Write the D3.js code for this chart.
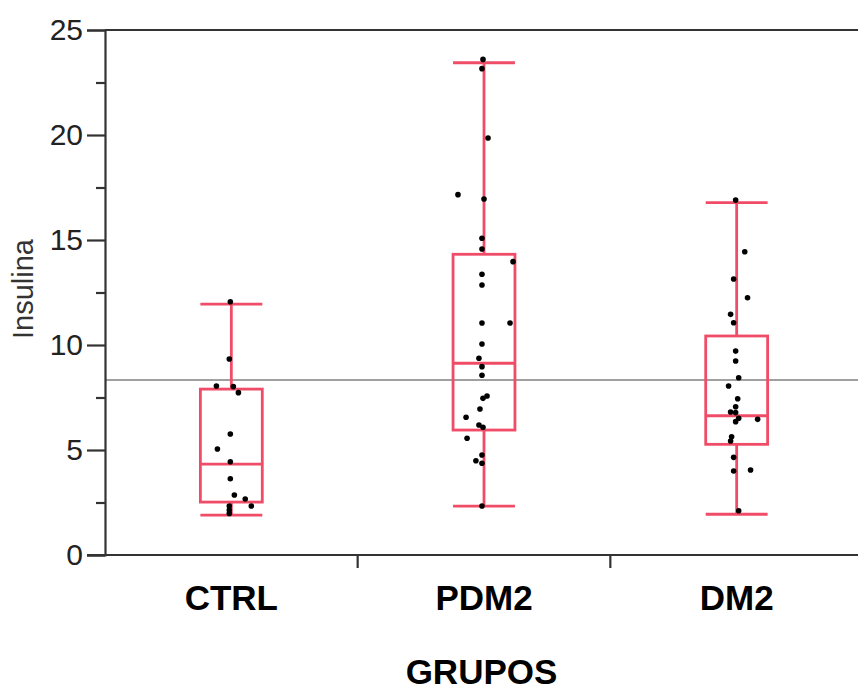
<!DOCTYPE html>
<html><head><meta charset="utf-8">
<script src="https://cdn.jsdelivr.net/npm/d3@7"></script>
<style>body{margin:0;background:#fff}svg{display:block}</style>
</head><body>
<svg id="c" width="858" height="690"></svg>
<script>
const categories = ["CTRL", "PDM2", "DM2"];
const yTicks = [0, 5, 10, 15, 20, 25];
const yMinorTicks = [2.5, 7.5, 12.5, 17.5, 22.5];
const whiskerLow = [1.9, 2.33, 1.94];
const q1 = [2.52, 5.95, 5.27];
const median = [4.33, 9.13, 6.63];
const q3 = [7.9, 14.32, 10.43];
const whiskerHigh = [11.95, 23.44, 16.78];
const grandMean = 8.33;
const ctrlValues = [12.06, 9.33, 8.05, 8.02, 7.73, 5.76, 5.05, 4.44, 3.63, 2.86, 2.67, 2.33, 2.33, 2.14, 1.98];
const ctrlJitter = [-0.004, -0.008, -0.059, 0.008, 0.028, -0.004, -0.055, -0.004, -0.004, 0.012, 0.055, 0.079, -0.008, -0.008, -0.008];
const pdm2Values = [23.6, 23.16, 19.86, 17.16, 16.95, 15.08, 14.57, 13.97, 13.37, 12.86, 11.05, 11.05, 10.05, 9.37, 8.97, 8.56, 7.57, 7.46, 6.95, 6.56, 6.19, 6.08, 5.56, 4.76, 4.49, 4.37, 2.33];
const pdm2Jitter = [-0.004, -0.008, 0.016, -0.103, 0, -0.008, -0.008, 0.115, -0.008, -0.008, -0.008, 0.103, -0.008, -0.02, -0.008, -0.008, 0.012, -0.004, -0.016, -0.071, -0.02, -0.004, -0.067, -0.008, -0.032, -0.008, -0.008];
const dm2Values = [16.9, 14.44, 13.14, 12.25, 11.46, 11.06, 9.71, 9.24, 8.44, 8.05, 7.44, 7.06, 6.81, 6.78, 6.51, 6.35, 6.46, 5.63, 5.43, 4.65, 4.0, 4.05, 2.11];
const dm2Jitter = [-0.004, 0.032, -0.012, 0.043, -0.024, -0.012, -0.004, -0.004, 0.008, -0.032, 0.004, -0.004, -0.024, -0.004, 0.008, -0.004, 0.083, -0.02, -0.024, -0.012, -0.012, 0.055, 0.008];

const groupValues = [ctrlValues, pdm2Values, dm2Values];
const groupJitter = [ctrlJitter, pdm2Jitter, dm2Jitter];

const svg = d3.select("#c");
const mLeft = 105, mRight = 863, mTop = 30, mBottom = 555;
const RED = "#f04c68";
const FONT = "Liberation Sans, Arial, Helvetica, sans-serif";

const y = d3.scaleLinear().domain([0, 25]).range([mBottom, mTop]);
const x = d3.scaleBand().domain(categories).range([mLeft, mRight]).padding(0);
const bw = x.bandwidth();
const boxW = bw * 0.245;

// mean line
svg.append("line").attr("x1", mLeft).attr("x2", 858)
  .attr("y1", y(grandMean)).attr("y2", y(grandMean))
  .attr("stroke", "#a0a0a0").attr("stroke-width", 2);

// top frame line
svg.append("line").attr("x1", mLeft).attr("x2", 858).attr("y1", mTop).attr("y2", mTop)
  .attr("stroke", "#333").attr("stroke-width", 2.2);

// y axis
const yAxis = svg.append("g").attr("transform", `translate(${mLeft},0)`)
  .call(d3.axisLeft(y).tickValues(yTicks).tickSize(18).tickPadding(4).tickFormat(d3.format("d")));
yAxis.select(".domain").attr("stroke", "#333").attr("stroke-width", 2.2);
yAxis.selectAll(".tick line").attr("stroke", "#333").attr("stroke-width", 2.2);
yAxis.selectAll(".tick text").attr("font-family", FONT)
  .attr("font-size", 30).attr("fill", "#222");
const yMinor = svg.append("g").attr("transform", `translate(${mLeft},0)`)
  .call(d3.axisLeft(y).tickValues(yMinorTicks).tickSize(9).tickFormat(""));
yMinor.select(".domain").remove();
yMinor.selectAll(".tick line").attr("stroke", "#333").attr("stroke-width", 2.2);

// x axis
const xAxis = svg.append("g").attr("transform", `translate(0,${mBottom})`)
  .call(d3.axisBottom(x).tickSize(0).tickPadding(30));
xAxis.select(".domain").attr("d", `M${mLeft - 18},0H858`).attr("stroke", "#333").attr("stroke-width", 2.2);
xAxis.selectAll(".tick text").attr("font-family", FONT)
  .attr("font-size", 35).attr("font-weight", "bold").attr("fill", "#000");
// separator ticks between groups
svg.append("g").selectAll("line").data(categories.slice(1)).join("line")
  .attr("x1", d => x(d)).attr("x2", d => x(d))
  .attr("y1", mBottom).attr("y2", mBottom + 13)
  .attr("stroke", "#333").attr("stroke-width", 2.2);

// axis titles
svg.append("text").attr("transform", `translate(33,289) rotate(-90)`)
  .attr("text-anchor", "middle").attr("font-family", FONT)
  .attr("font-size", 29).attr("fill", "#333").text("Insulina");
svg.append("text").attr("x", (mLeft + 858) / 2).attr("y", 684)
  .attr("text-anchor", "middle").attr("font-family", FONT)
  .attr("font-size", 35).attr("font-weight", "bold").attr("fill", "#000").text("GRUPOS");

// boxes
const g = svg.append("g").attr("fill", "none").attr("stroke", RED).attr("stroke-width", 2.8);
categories.forEach((c, i) => {
  const cx = x(c) + bw / 2;
  g.append("line").attr("x1", cx).attr("x2", cx).attr("y1", y(whiskerHigh[i])).attr("y2", y(q3[i]));
  g.append("line").attr("x1", cx).attr("x2", cx).attr("y1", y(q1[i])).attr("y2", y(whiskerLow[i]));
  g.append("line").attr("x1", cx - boxW / 2).attr("x2", cx + boxW / 2).attr("y1", y(whiskerHigh[i])).attr("y2", y(whiskerHigh[i]));
  g.append("line").attr("x1", cx - boxW / 2).attr("x2", cx + boxW / 2).attr("y1", y(whiskerLow[i])).attr("y2", y(whiskerLow[i]));
  g.append("rect").attr("x", cx - boxW / 2).attr("y", y(q3[i])).attr("width", boxW).attr("height", y(q1[i]) - y(q3[i]));
  g.append("line").attr("x1", cx - boxW / 2).attr("x2", cx + boxW / 2).attr("y1", y(median[i])).attr("y2", y(median[i]));
});

// points
categories.forEach((c, i) => {
  const cx = x(c) + bw / 2;
  svg.append("g").selectAll("circle").data(groupValues[i]).join("circle")
    .attr("cx", (d, j) => cx + groupJitter[i][j] * bw)
    .attr("cy", d => y(d)).attr("r", 2.8).attr("fill", "#000");
});
</script>
</body></html>
